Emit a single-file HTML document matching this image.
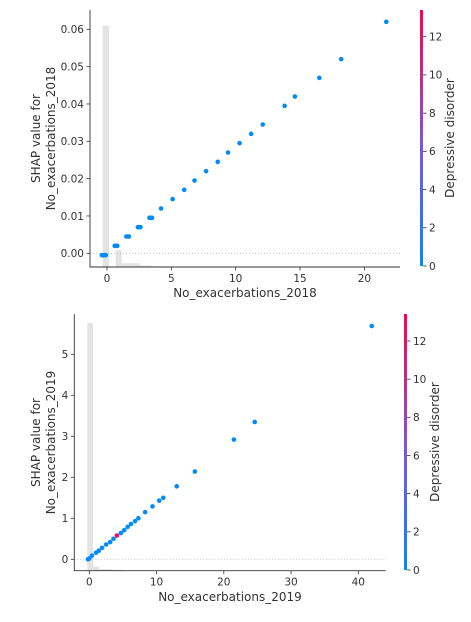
<!DOCTYPE html>
<html><head><meta charset="utf-8"><style>
body{margin:0;background:#fff;}
svg text{font-family:"DejaVu Sans","Liberation Sans",sans-serif;fill:#333;}
</style></head><body>
<svg id="svg" width="471" height="617" xmlns="http://www.w3.org/2000/svg">
<defs>
<linearGradient id="cb" x1="0" y1="1" x2="0" y2="0">
<stop offset="0" stop-color="#008bfb"/><stop offset="0.5" stop-color="#8a4fd6"/><stop offset="1" stop-color="#ff0051"/>
</linearGradient>
</defs>
</svg>
<script>
// Chart 1 data
const c1X = [-0.4,-0.3,-0.2,-0.1,0.6,0.7,0.8,1.5,1.6,1.7,2.4,2.5,2.6,3.3,3.4,3.5,4.2,5.1,6.0,6.8,7.7,8.6,9.4,10.3,11.2,12.1,13.8,14.6,16.5,18.2,21.7];
const c1Y = [-0.0005,-0.0005,-0.0005,-0.0005,0.002,0.002,0.002,0.0045,0.0045,0.0045,0.007,0.007,0.007,0.0095,0.0095,0.0095,0.012,0.0145,0.017,0.0195,0.022,0.0245,0.027,0.0295,0.032,0.0345,0.0395,0.042,0.047,0.052,0.062];
const c1C = [0,0,0,0,0,0,0,0,0,0,0,0,0,0,0,0,0,0,0,0,0,0,0,0,0,0,0,0,0,0,0];
const c1XTicks = [0,5,10,15,20];
const c1YTicks = [0,0.01,0.02,0.03,0.04,0.05,0.06];
const c1YLabels = ["0.00","0.01","0.02","0.03","0.04","0.05","0.06"];
const c1HistStart = [-0.34,0.67,1.14,2.56,3.4];
const c1HistEnd = [0.16,1.14,2.56,3.4,4.4];
const c1HistVals = [0.0646,0.0045,0.001,0.0004,0.0002];
// Chart 2 data
const c2X = [-0.2,0,0.4,1.0,1.4,1.9,2.5,3.1,3.6,4.1,4.7,5.2,5.7,6.2,6.8,7.3,8.3,9.4,10.4,11.0,13.0,15.7,21.5,24.6,42.0];
const c2Y = [0,0.02,0.09,0.16,0.21,0.28,0.36,0.42,0.5,0.58,0.64,0.71,0.79,0.86,0.93,1.0,1.15,1.29,1.43,1.5,1.78,2.14,2.92,3.35,5.69];
const c2C = [0,0,0,0,0,0,0,0,0,12,0,0,0,0,0,0,0,0,0,0,0,0,0,0,0];
const c2XTicks = [0,10,20,30,40];
const c2YTicks = [0,1,2,3,4,5];
const c2HistStart = [-0.3,0.55,1.45,3.5];
const c2HistEnd = [0.55,1.45,3.5,5];
const c2HistVals = [6.04,0.1,0.04,0.02];
const cbTicks = [0,2,4,6,8,10,12];

const svg = document.getElementById('svg');
const NS = 'http://www.w3.org/2000/svg';
function mk(tag, attrs, parent){const e=document.createElementNS(NS,tag);for(const k in attrs)e.setAttribute(k,attrs[k]);(parent||svg).appendChild(e);return e;}
function col(v){const t=Math.max(0,Math.min(1,v/13.3));
  const a=[0,139,251],m=[138,79,214],b=[255,0,81];let c;
  if(t<0.5){const u=t/0.5;c=a.map((x,i)=>x+(m[i]-x)*u);}else{const u=(t-0.5)/0.5;c=m.map((x,i)=>x+(b[i]-x)*u);}
  return 'rgb('+c.map(Math.round).join(',')+')';}

function chart(cfg){
  const g = mk('g',{});
  
  
  const sx = v => cfg.x0px + v * cfg.xs;
  const sy = v => cfg.y0px - v * cfg.ys;
  const hb = v => cfg.bottom - v * cfg.hs;
  for(let i=0;i<cfg.hv.length;i++){
    const r=mk('rect',{x:sx(cfg.hs0[i]),y:hb(cfg.hv[i]),width:sx(cfg.he[i])-sx(cfg.hs0[i]),height:cfg.bottom-hb(cfg.hv[i]),fill:'#e3e3e3'},g);
    
    
  }
  mk('line',{x1:cfg.left,x2:cfg.right,y1:sy(0),y2:sy(0),stroke:'#bbb','stroke-width':0.8,'stroke-dasharray':'1,2'},g);
  for(let i=0;i<cfg.X.length;i++){
    const c=mk('circle',{cx:sx(cfg.X[i]),cy:sy(cfg.Y[i]),r:2.3,fill:col(cfg.C[i])},g);
    
    
  }
  const ax=mk('path',{d:`M${cfg.left},${cfg.top}V${cfg.bottom}H${cfg.right}`,stroke:'#333','stroke-width':0.9,fill:'none'},g);
  
  
  cfg.xt.forEach(t=>{const x=sx(t);mk('line',{x1:x,x2:x,y1:cfg.bottom,y2:cfg.bottom+3.5,stroke:'#333','stroke-width':0.8},g);
    const tx=mk('text',{x:x,y:cfg.bottom+15,'font-size':10.5,'text-anchor':'middle'},g);tx.textContent=t;
    
    });
  cfg.yt.forEach((t,i)=>{const y=sy(t);mk('line',{x1:cfg.left-3.5,x2:cfg.left,y1:y,y2:y,stroke:'#333','stroke-width':0.8},g);
    const tx=mk('text',{x:cfg.left-6,y:y+3.8,'font-size':10.5,'text-anchor':'end'},g);tx.textContent=cfg.yl?cfg.yl[i]:t;
    
    });
  const xl=mk('text',{x:(cfg.left+cfg.right)/2,y:cfg.xlY,'font-size':12,'text-anchor':'middle'},g);xl.textContent=cfg.xlabel;
  
  
  const yl=mk('text',{transform:`translate(40,${(cfg.top+cfg.bottom)/2}) rotate(-90)`,'font-size':12,'text-anchor':'middle'},g);
  
  
  const t1=mk('tspan',{x:0,y:0},yl);t1.textContent='SHAP value for';
  const t2=mk('tspan',{x:0,y:15},yl);t2.textContent=cfg.xlabel;
  const cb=mk('rect',{x:cfg.cbx,y:cfg.cbTop,width:3,height:cfg.cbBot-cfg.cbTop,fill:'url(#cb)'},g);
  
  
  const cbs = v => cfg.cbBot - v*(cfg.cbBot-cfg.cb12)/12;
  cbTicks.forEach(t=>{const y=cbs(t);mk('line',{x1:cfg.cbx+3,x2:cfg.cbx+6.5,y1:y,y2:y,stroke:'#333','stroke-width':0.8},g);
    const tx=mk('text',{x:cfg.cbx+9,y:y+3.8,'font-size':10.5},g);tx.textContent=t;
    
    });
  const cl=mk('text',{transform:`translate(${cfg.cbLx},${(cfg.cbTop+cfg.cbBot)/2}) rotate(-90)`,'font-size':12,'text-anchor':'middle'},g);
  cl.textContent='Depressive disorder';
  
  
}

chart({name:'chart-2018',X:c1X,Y:c1Y,C:c1C,xt:c1XTicks,yt:c1YTicks,yl:c1YLabels,hs0:c1HistStart,he:c1HistEnd,hv:c1HistVals,
  left:90,right:400,top:10,bottom:267,x0px:107,xs:12.87,y0px:253.3,ys:3733,hs:3733,
  xlabel:'No_exacerbations_2018',xlY:297,cbx:420,cbTop:10,cbBot:266,cb12:36.7,cbLx:454});
chart({name:'chart-2019',X:c2X,Y:c2Y,C:c2C,xt:c2XTicks,yt:c2YTicks,hs0:c2HistStart,he:c2HistEnd,hv:c2HistVals,
  left:74.3,right:385.7,top:314.3,bottom:570.7,x0px:89.3,xs:6.725,y0px:559.3,ys:41,hs:41,
  xlabel:'No_exacerbations_2019',xlY:601,cbx:404,cbTop:314,cbBot:570,cb12:341,cbLx:439});
</script>
</body></html>
